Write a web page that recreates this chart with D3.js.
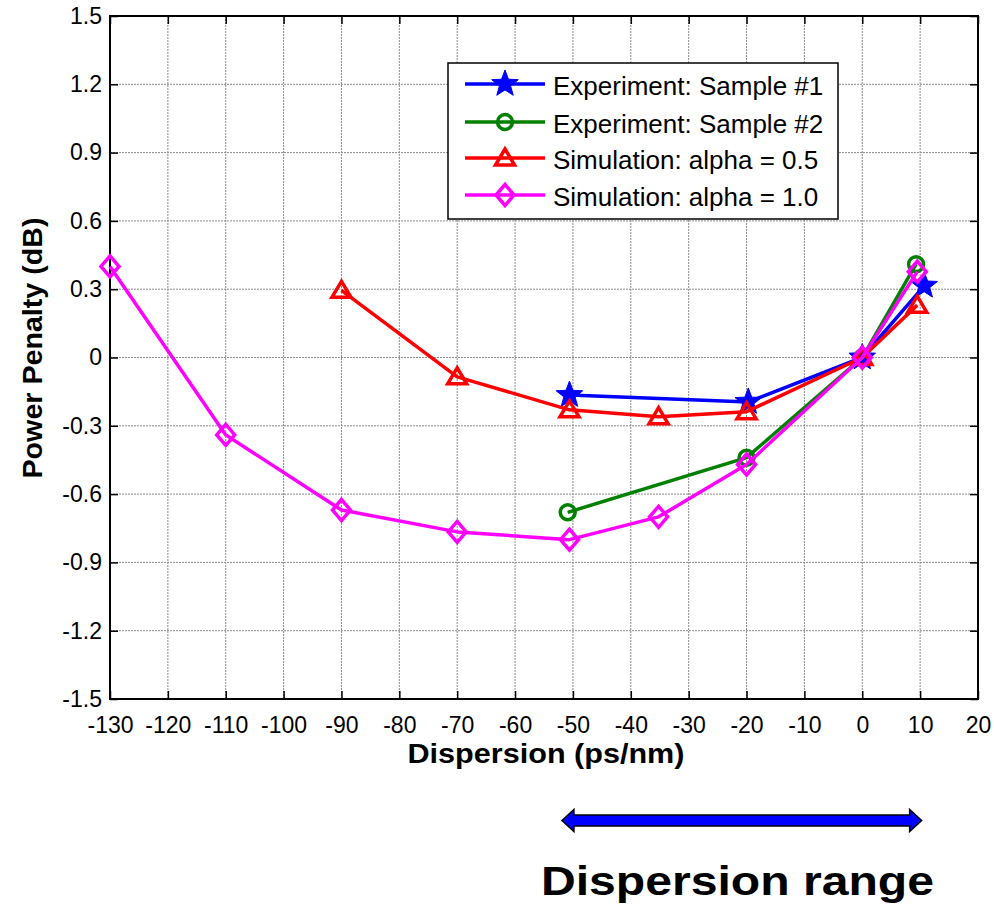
<!DOCTYPE html>
<html>
<head>
<meta charset="utf-8">
<script src="https://cdn.jsdelivr.net/npm/d3@7"></script>
<style>
  body { margin: 0; background: #fff; }
  text { font-family: Arial, "Liberation Sans", sans-serif; }
</style>
</head>
<body>
<script>
// series data
var sample1X = [-50.6, -19.7, 0, 10.7];
var sample1Y = [-0.165, -0.195, 0, 0.315];
var sample2X = [-50.9, -20, 0, 9.3];
var sample2Y = [-0.68, -0.44, 0, 0.41];
var alpha05X = [-90, -70, -50.6, -35.2, -20, 0, 9.5];
var alpha05Y = [0.295, -0.085, -0.23, -0.26, -0.238, 0, 0.23];
var alpha10X = [-130, -110, -90, -70, -50.6, -35.2, -20, 0, 9.5];
var alpha10Y = [0.40, -0.34, -0.67, -0.766, -0.80, -0.70, -0.47, 0, 0.377];

var xTicks = d3.range(-130, 21, 10);
var yTicks = [-1.5, -1.2, -0.9, -0.6, -0.3, 0, 0.3, 0.6, 0.9, 1.2, 1.5];
var rangeArrow = [-50, 10];

var seriesNames = ["Experiment: Sample #1", "Experiment: Sample #2", "Simulation: alpha = 0.5", "Simulation: alpha = 1.0"];

var W = 994, H = 911;
var m = {left: 110, right: 978, top: 16, bottom: 699};

var svg = d3.select("body").append("svg")
    .attr("width", W)
    .attr("height", H);

var x = d3.scaleLinear().domain([-130, 20]).range([m.left, m.right]);
var y = d3.scaleLinear().domain([-1.5, 1.5]).range([m.bottom, m.top]);

// grid
var grid = svg.append("g");
grid.selectAll("line.gx").data(xTicks.slice(1, -1)).enter().append("line")
    .attr("x1", d => x(d)).attr("x2", d => x(d))
    .attr("y1", m.top).attr("y2", m.bottom)
    .attr("stroke", "#8c8c8c").attr("stroke-width", 1).attr("stroke-dasharray", "2,1");
grid.selectAll("line.gy").data(yTicks.slice(1, -1)).enter().append("line")
    .attr("y1", d => y(d)).attr("y2", d => y(d))
    .attr("x1", m.left).attr("x2", m.right)
    .attr("stroke", "#8c8c8c").attr("stroke-width", 1).attr("stroke-dasharray", "2,1");

// axes with inward ticks
var xAxisB = d3.axisBottom(x).tickValues(xTicks).tickSize(-8).tickPadding(18).tickFormat(d => String(d));
var xAxisT = d3.axisTop(x).tickValues(xTicks).tickSize(-8).tickFormat("");
var yAxisL = d3.axisLeft(y).tickValues(yTicks).tickSize(-8).tickPadding(8).tickFormat(d => d === 0 ? "0" : d.toFixed(1));
var yAxisR = d3.axisRight(y).tickValues(yTicks).tickSize(-8).tickFormat("");

function styleAxis(g) {
  g.select(".domain").remove();
  g.selectAll(".tick line").attr("stroke", "#000").attr("stroke-width", 1.5);
  g.selectAll(".tick text").attr("fill", "#000").style("font-size", "23px")
    .style("font-family", "Arial, 'Liberation Sans', sans-serif");
}
svg.append("g").attr("transform", "translate(0," + m.bottom + ")").call(xAxisB).call(styleAxis);
svg.append("g").attr("transform", "translate(0," + m.top + ")").call(xAxisT).call(styleAxis);
svg.append("g").attr("transform", "translate(" + m.left + ",0)").call(yAxisL).call(styleAxis);
svg.append("g").attr("transform", "translate(" + m.right + ",0)").call(yAxisR).call(styleAxis);

svg.append("rect")
    .attr("x", m.left).attr("y", m.top)
    .attr("width", m.right - m.left).attr("height", m.bottom - m.top)
    .attr("fill", "none").attr("stroke", "#000").attr("stroke-width", 2);

// axis titles
svg.append("text")
    .attr("x", 546).attr("y", 763)
    .attr("text-anchor", "middle")
    .attr("textLength", 277).attr("lengthAdjust", "spacingAndGlyphs")
    .style("font-size", "27px").style("font-weight", "bold")
    .text("Dispersion (ps/nm)");
svg.append("text")
    .attr("transform", "translate(42,348) rotate(-90)")
    .attr("text-anchor", "middle")
    .attr("textLength", 261).attr("lengthAdjust", "spacingAndGlyphs")
    .style("font-size", "27px").style("font-weight", "bold")
    .text("Power Penalty (dB)");

// marker shapes
function starPath(r) {
  var pts = [];
  for (var i = 0; i < 10; i++) {
    var a = -Math.PI / 2 + i * Math.PI / 5;
    var rr = i % 2 === 0 ? r : r * 0.42;
    pts.push([rr * Math.cos(a), rr * Math.sin(a)]);
  }
  return "M" + pts.map(p => p.join(",")).join("L") + "Z";
}
var markers = {
  star: {path: starPath(14), fill: true},
  circle: {path: d3.symbol(d3.symbolCircle, 175)(), fill: false},
  triangle: {path: "M0,-9L9.5,7L-9.5,7Z", fill: false},
  diamond: {path: "M0,-10.5L9,0L0,10.5L-9,0Z", fill: false}
};

var series = [
  {name: seriesNames[0], xs: sample1X, ys: sample1Y, color: "#0000ff", marker: "star"},
  {name: seriesNames[1], xs: sample2X, ys: sample2Y, color: "#008000", marker: "circle"},
  {name: seriesNames[2], xs: alpha05X, ys: alpha05Y, color: "#ff0000", marker: "triangle"},
  {name: seriesNames[3], xs: alpha10X, ys: alpha10Y, color: "#ff00ff", marker: "diamond"}
];

var line = d3.line().x(d => x(d[0])).y(d => y(d[1]));

function drawMarker(g, mk, color, cx, cy) {
  g.append("path")
    .attr("d", markers[mk].path)
    .attr("transform", "translate(" + cx + "," + cy + ")")
    .attr("fill", markers[mk].fill ? color : "none")
    .attr("stroke", color)
    .attr("stroke-width", markers[mk].fill ? 1 : 3.5);
}

series.forEach(function(s) {
  var pts = s.xs.map((v, i) => [v, s.ys[i]]);
  var g = svg.append("g");
  g.append("path").datum(pts)
    .attr("d", line)
    .attr("fill", "none").attr("stroke", s.color).attr("stroke-width", 3.5)
    .attr("stroke-linejoin", "round");
  pts.forEach(p => drawMarker(g, s.marker, s.color, x(p[0]), y(p[1])));
});

// legend
var lg = svg.append("g");
lg.append("rect")
    .attr("x", 448).attr("y", 63).attr("width", 390).attr("height", 156)
    .attr("fill", "#fff").attr("stroke", "#000").attr("stroke-width", 1.5);
var legY = [84, 122, 158, 195];
series.forEach(function(s, i) {
  lg.append("line")
    .attr("x1", 465).attr("x2", 545).attr("y1", legY[i]).attr("y2", legY[i])
    .attr("stroke", s.color).attr("stroke-width", 3.5);
  drawMarker(lg, s.marker, s.color, 505, legY[i]);
  lg.append("text")
    .attr("x", 553).attr("y", legY[i] + 11)
    .style("font-size", "26px")
    .text(s.name);
});

// dispersion range arrow
var ay = 820.5, ah = 5.5, hw = 11, hl = 12;
var ax0 = x(rangeArrow[0]) - 11, ax1 = x(rangeArrow[1]) + 1.5;
svg.append("path")
    .attr("d", "M" + ax0 + "," + ay +
      "L" + (ax0 + hl) + "," + (ay - hw) +
      "L" + (ax0 + hl) + "," + (ay - ah) +
      "L" + (ax1 - hl) + "," + (ay - ah) +
      "L" + (ax1 - hl) + "," + (ay - hw) +
      "L" + ax1 + "," + ay +
      "L" + (ax1 - hl) + "," + (ay + hw) +
      "L" + (ax1 - hl) + "," + (ay + ah) +
      "L" + (ax0 + hl) + "," + (ay + ah) +
      "L" + (ax0 + hl) + "," + (ay + hw) + "Z")
    .attr("fill", "#0000ff").attr("stroke", "#000").attr("stroke-width", 1.5);

svg.append("text")
    .attr("x", 737.5).attr("y", 895)
    .attr("text-anchor", "middle")
    .attr("textLength", 393).attr("lengthAdjust", "spacingAndGlyphs")
    .style("font-size", "40px").style("font-weight", "bold")
    .text("Dispersion range");
</script>
</body>
</html>
